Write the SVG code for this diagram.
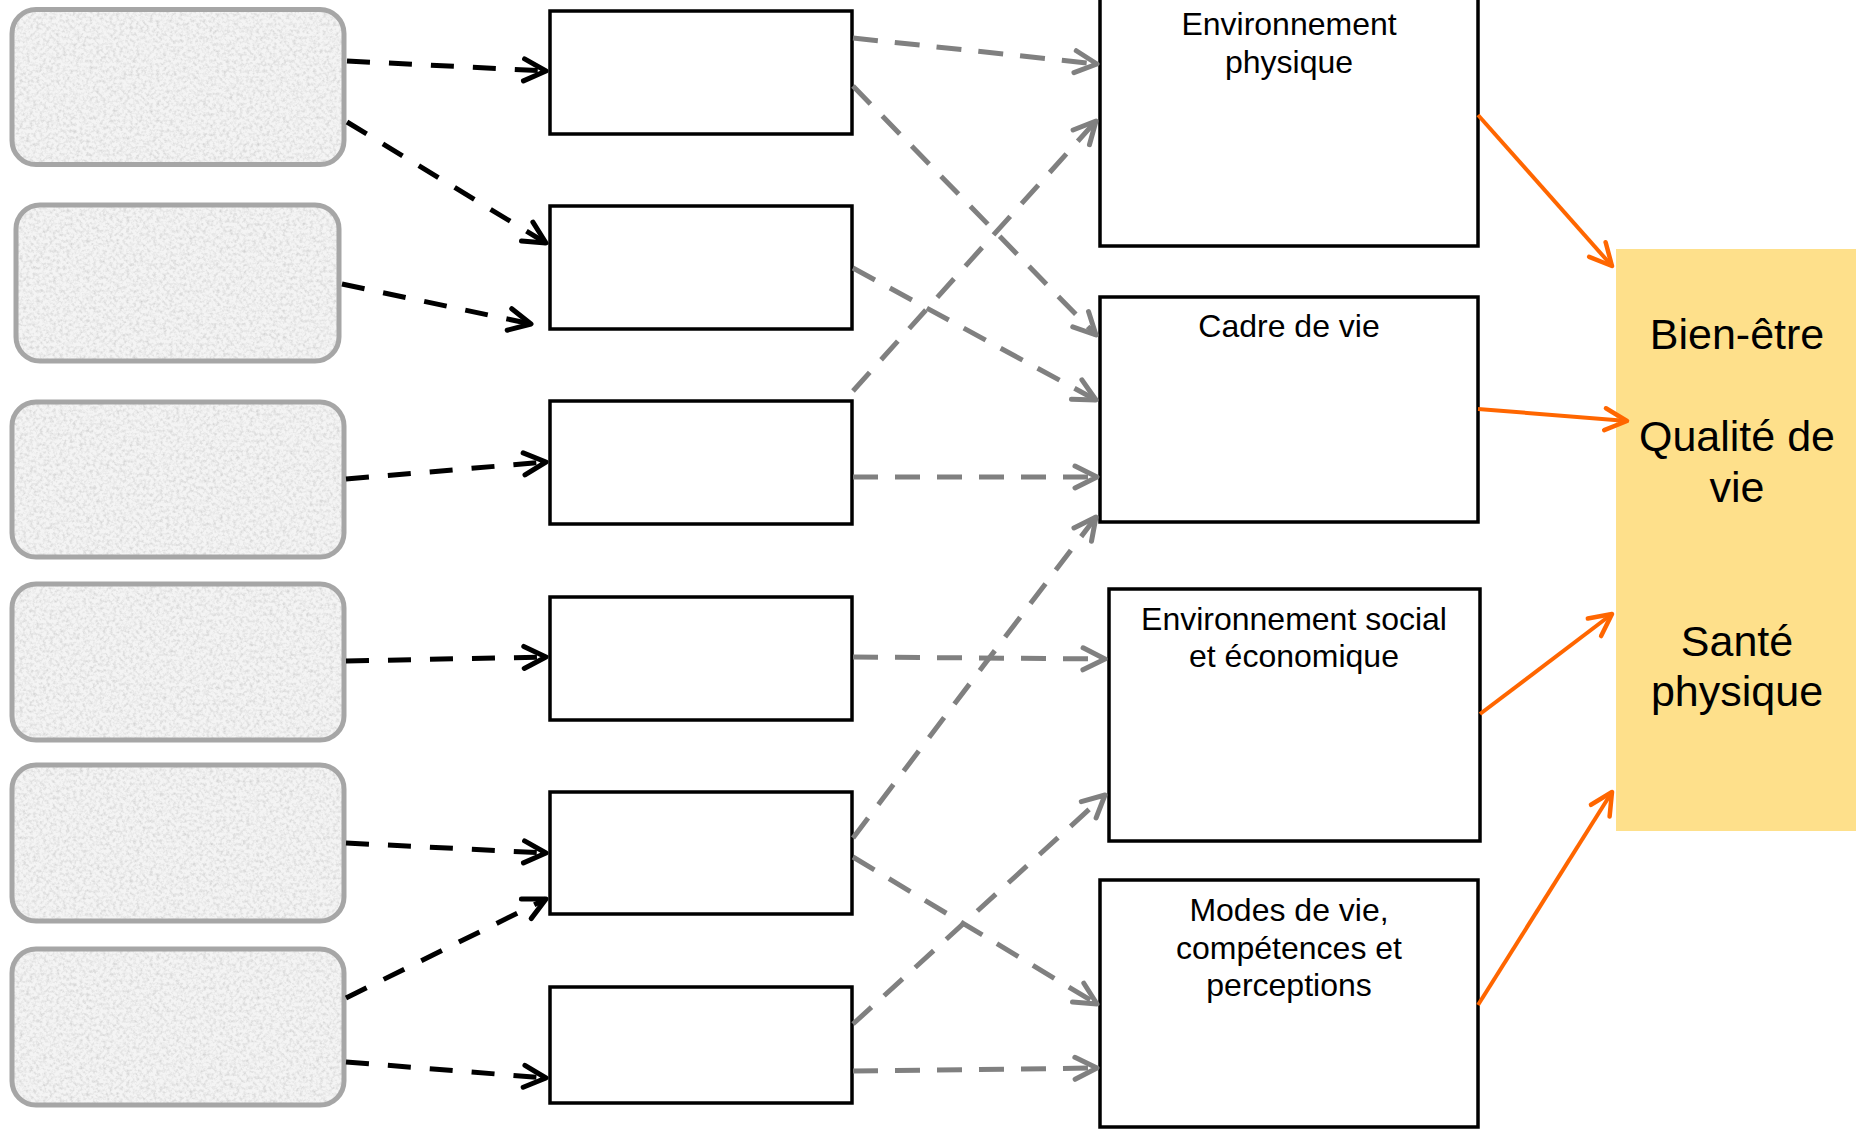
<svg xmlns="http://www.w3.org/2000/svg" width="1856" height="1130" viewBox="0 0 1856 1130">
  <style>
    .tex { fill: #f4f4f4; filter: url(#tex); }
    .texb { fill: none; stroke: #a6a6a6; stroke-width: 5; }
    .mid { fill: #ffffff; stroke: #000000; stroke-width: 3.5; }
    .box { fill: #ffffff; stroke: #000000; stroke-width: 3.5; }
    .lbl { font-family: "Liberation Sans", Arial, sans-serif; font-size: 32px; fill: #000000; text-anchor: middle; }
    .big { font-family: "Liberation Sans", Arial, sans-serif; font-size: 43px; fill: #000000; text-anchor: middle; }
    .blk { fill: none; stroke: #000000; stroke-width: 5; stroke-dasharray: 23 19; marker-end: url(#ab); }
    .gry { fill: none; stroke: #808080; stroke-width: 5; stroke-dasharray: 25 17; marker-end: url(#ag); }
    .org { fill: none; stroke: #ff6600; stroke-width: 4; marker-end: url(#ao); }
  </style>
  <defs>
    <filter id="tex" x="0" y="0" width="1" height="1">
      <feTurbulence type="fractalNoise" baseFrequency="0.3" numOctaves="3" seed="7" result="n"/>
      <feColorMatrix in="n" type="matrix" values="0 0 0 0 0.6  0 0 0 0 0.6  0 0 0 0 0.6  1.7 0 0 0 -0.7" result="spots"/>
      <feComposite in="spots" in2="SourceGraphic" operator="atop"/>
    </filter>
    <marker id="ab" markerUnits="userSpaceOnUse" viewBox="0 0 30 30" markerWidth="30" markerHeight="30" refX="25" refY="15" orient="auto" overflow="visible">
      <path d="M3,4 L25,15 L3,26" fill="none" stroke="#000000" stroke-width="5" stroke-linecap="round" stroke-linejoin="round"/>
    </marker>
    <marker id="ag" markerUnits="userSpaceOnUse" viewBox="0 0 30 30" markerWidth="30" markerHeight="30" refX="25" refY="15" orient="auto" overflow="visible">
      <path d="M3,4 L25,15 L3,26" fill="none" stroke="#808080" stroke-width="5" stroke-linecap="round" stroke-linejoin="round"/>
    </marker>
    <marker id="ao" markerUnits="userSpaceOnUse" viewBox="0 0 30 30" markerWidth="30" markerHeight="30" refX="25" refY="15" orient="auto" overflow="visible">
      <path d="M3,4 L25,15 L3,26" fill="none" stroke="#ff6600" stroke-width="4.5" stroke-linecap="round" stroke-linejoin="round"/>
    </marker>
  </defs>

  <rect width="1856" height="1130" fill="#ffffff"/>

  <!-- left textured boxes -->
  <g id="src1"><rect class="tex" x="12" y="9.5" width="332" height="155" rx="24"/><rect class="texb" x="12" y="9.5" width="332" height="155" rx="24"/></g>
  <g id="src2"><rect class="tex" x="16" y="205" width="323" height="156" rx="24"/><rect class="texb" x="16" y="205" width="323" height="156" rx="24"/></g>
  <g id="src3"><rect class="tex" x="12" y="402" width="332" height="155" rx="24"/><rect class="texb" x="12" y="402" width="332" height="155" rx="24"/></g>
  <g id="src4"><rect class="tex" x="12" y="584" width="332" height="156" rx="24"/><rect class="texb" x="12" y="584" width="332" height="156" rx="24"/></g>
  <g id="src5"><rect class="tex" x="12" y="765" width="332" height="156" rx="24"/><rect class="texb" x="12" y="765" width="332" height="156" rx="24"/></g>
  <g id="src6"><rect class="tex" x="12" y="949" width="332" height="156" rx="24"/><rect class="texb" x="12" y="949" width="332" height="156" rx="24"/></g>

  <!-- middle boxes -->
  <g id="mid1"><rect class="mid" x="550" y="11" width="302" height="123"/></g>
  <g id="mid2"><rect class="mid" x="550" y="206" width="302" height="123"/></g>
  <g id="mid3"><rect class="mid" x="550" y="401" width="302" height="123"/></g>
  <g id="mid4"><rect class="mid" x="550" y="597" width="302" height="123"/></g>
  <g id="mid5"><rect class="mid" x="550" y="792" width="302" height="122"/></g>
  <g id="mid6"><rect class="mid" x="550" y="987" width="302" height="116"/></g>

  <!-- right boxes -->
  <g id="env-physique">
    <rect class="box" x="1100" y="-5" width="378" height="251"/>
    <text class="lbl" x="1289" y="35">Environnement</text>
    <text class="lbl" x="1289" y="72.5">physique</text>
  </g>
  <g id="cadre-de-vie">
    <rect class="box" x="1100" y="297" width="378" height="225"/>
    <text class="lbl" x="1289" y="337">Cadre de vie</text>
  </g>
  <g id="env-social">
    <rect class="box" x="1109" y="589" width="371" height="252"/>
    <text class="lbl" x="1294" y="630">Environnement social</text>
    <text class="lbl" x="1294" y="667">et économique</text>
  </g>
  <g id="modes-de-vie">
    <rect class="box" x="1100" y="880" width="378" height="247"/>
    <text class="lbl" x="1289" y="921">Modes de vie,</text>
    <text class="lbl" x="1289" y="958.5">compétences et</text>
    <text class="lbl" x="1289" y="996">perceptions</text>
  </g>

  <!-- outcome -->
  <g id="outcome">
    <rect x="1616" y="249" width="240" height="582" fill="#fee08b"/>
    <text class="big" x="1737" y="349">Bien-être</text>
    <text class="big" x="1737" y="451">Qualité de</text>
    <text class="big" x="1737" y="502">vie</text>
    <text class="big" x="1737" y="656">Santé</text>
    <text class="big" x="1737" y="706">physique</text>
  </g>

  <!-- connectors -->
  <g id="connectors">
    <line class="blk" x1="347" y1="61" x2="546" y2="71"/>
    <line class="blk" x1="347" y1="122" x2="546" y2="243"/>
    <line class="blk" x1="342" y1="284" x2="531" y2="324"/>
    <line class="blk" x1="346" y1="479" x2="546" y2="462"/>
    <line class="blk" x1="346" y1="661" x2="546" y2="657"/>
    <line class="blk" x1="346" y1="843" x2="546" y2="853"/>
    <line class="blk" x1="346" y1="998" x2="546" y2="899"/>
    <line class="blk" x1="346" y1="1062" x2="546" y2="1078"/>

    <line class="gry" x1="853" y1="38" x2="1097" y2="64"/>
    <line class="gry" x1="853" y1="86" x2="1096" y2="335"/>
    <line class="gry" x1="853" y1="268" x2="1096" y2="400"/>
    <line class="gry" x1="853" y1="391" x2="1096" y2="121"/>
    <line class="gry" x1="853" y1="477" x2="1097" y2="477"/>
    <line class="gry" x1="853" y1="657" x2="1105" y2="659"/>
    <line class="gry" x1="853" y1="838" x2="1096" y2="517"/>
    <line class="gry" x1="853" y1="857" x2="1097" y2="1004"/>
    <line class="gry" x1="853" y1="1024" x2="1105" y2="795"/>
    <line class="gry" x1="853" y1="1071" x2="1097" y2="1068"/>

    <line class="org" x1="1478" y1="115" x2="1612" y2="266"/>
    <line class="org" x1="1478" y1="409" x2="1627" y2="421"/>
    <line class="org" x1="1480" y1="714" x2="1612" y2="614"/>
    <line class="org" x1="1478" y1="1005" x2="1612" y2="792"/>
  </g>
</svg>
